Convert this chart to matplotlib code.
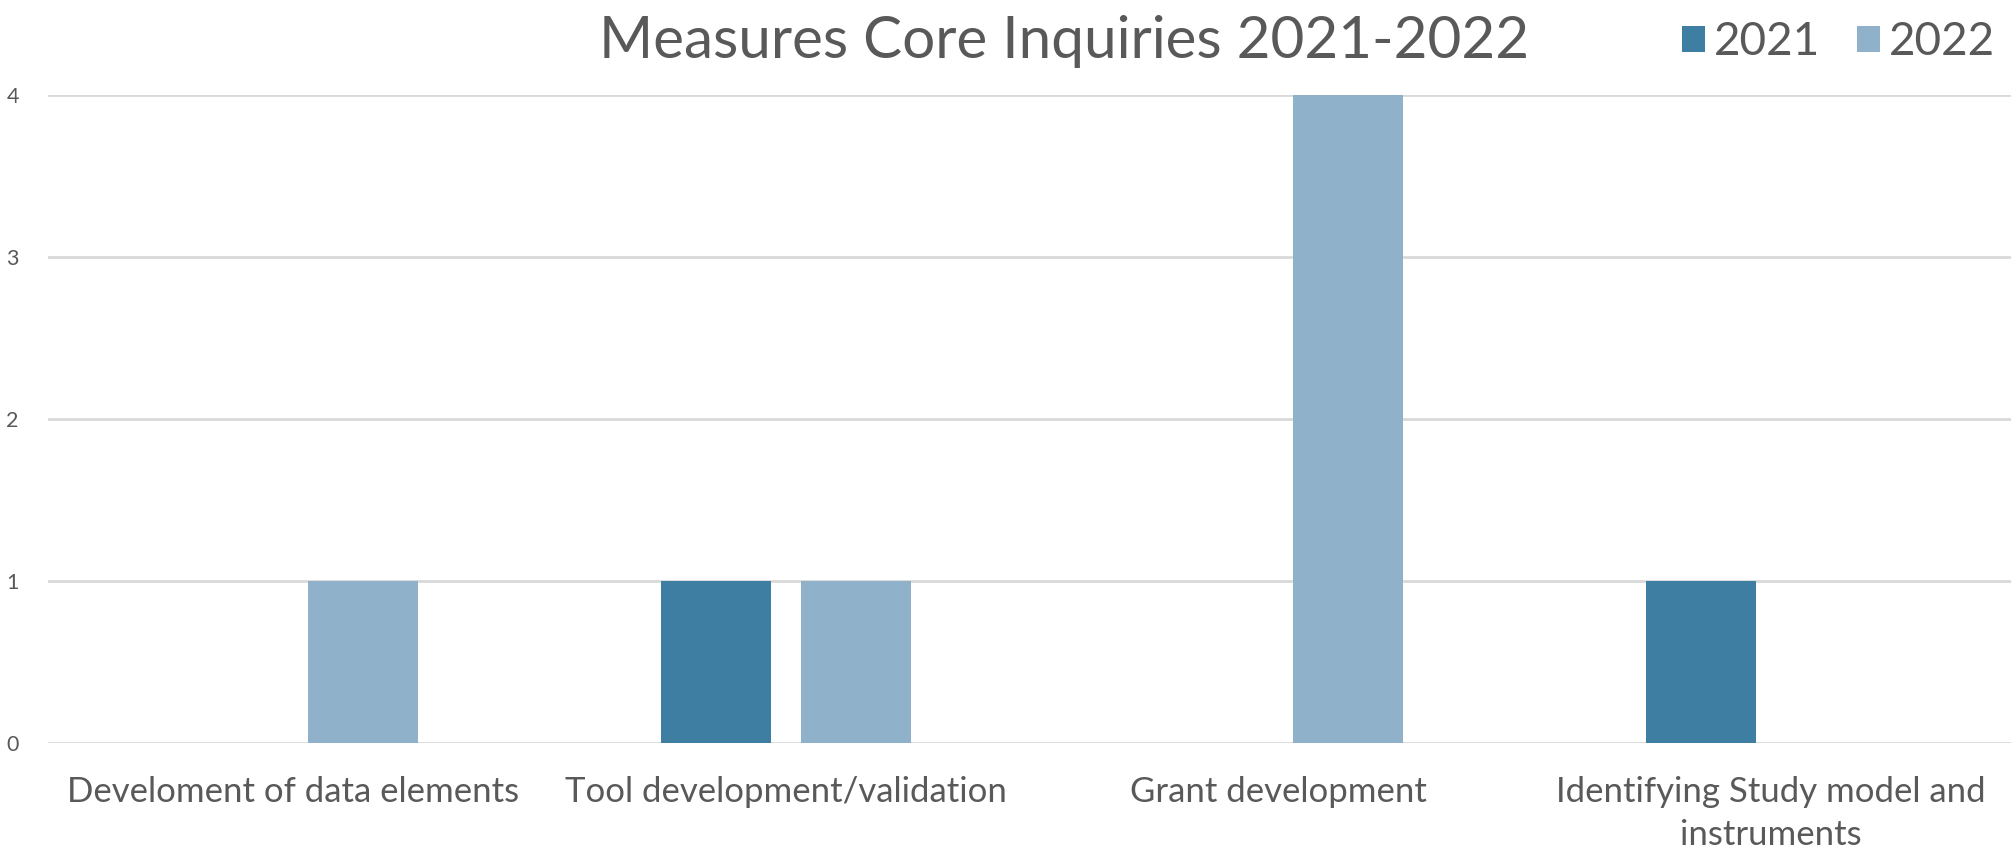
import matplotlib
matplotlib.use("Agg")
import matplotlib.pyplot as plt
from matplotlib.patches import Patch
import numpy as np

categories = ["Develoment of data elements", "Tool development/validation",
              "Grant development", "Identifying Study model and\ninstruments"]
series_names = ["2021", "2022"]
values_2021 = [0, 1, 0, 1]
values_2022 = [1, 1, 4, 0]
y_ticks = [0, 1, 2, 3, 4]

colors = ["#3E7EA2", "#8FB1C9"]
text_color = "#595959"
grid_color = "#D9D9D9"

plt.rcParams['font.family'] = ['Lato', 'DejaVu Sans']

W, H = 2011, 849
fig = plt.figure(figsize=(W / 100, H / 100), dpi=100)
left_px, right_px = 48, 2011
top_px, bot_px = 95, 743
ax = fig.add_axes([left_px / W, 1 - bot_px / H, (right_px - left_px) / W, (bot_px - top_px) / H])

spacing_px = 492.5
x = np.arange(len(categories))
bw = 110 / spacing_px
off = 70 / spacing_px
ax.bar(x - off, values_2021, width=bw, color=colors[0], zorder=3)
ax.bar(x + off, values_2022, width=bw, color=colors[1], zorder=3)

ax.set_xlim(-0.5 + 1 / spacing_px, -0.5 + (right_px - left_px + 1) / spacing_px)
ax.set_ylim(0, 4)
ax.set_yticks(y_ticks)
ax.set_yticklabels([str(v) for v in y_ticks])
ax.yaxis.grid(True, color=grid_color, linewidth=2, zorder=0)
ax.set_axisbelow(True)
for s in ax.spines.values():
    s.set_visible(False)
ax.set_xticks(x)
ax.set_xticklabels(categories, fontsize=25, color=text_color, linespacing=1.4)
ax.tick_params(axis='x', length=0, pad=24)
ax.tick_params(axis='y', length=0, pad=21, labelsize=15.5, labelcolor=text_color)

fig.text(1064 / W, 1 - 42 / H, "Measures Core Inquiries 2021-2022", ha='center', va='center',
         fontsize=42, color=text_color)

handles = [Patch(facecolor=c, edgecolor='none') for c in colors]
leg = fig.legend(handles, series_names, loc='center right', bbox_to_anchor=(1995 / W, 1 - 42 / H),
                 frameon=False, fontsize=33, handlelength=0.5, handleheight=0.5,
                 handletextpad=0.2, columnspacing=0.8, ncol=2, labelcolor=text_color,
                 borderaxespad=0, borderpad=0)

fig.savefig("out.png", dpi=100, facecolor='white')
